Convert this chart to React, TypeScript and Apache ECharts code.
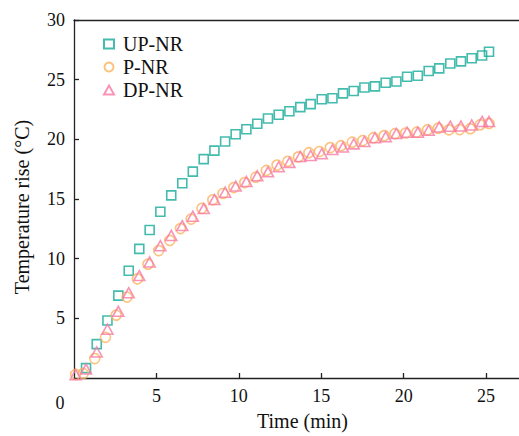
import React, { useEffect, useRef } from "react";
import * as echarts from "echarts";

const seriesNames = ["UP-NR", "P-NR", "DP-NR"];
const colors = ["#14aa98", "#fbb45e", "#f67aa4"];

const timeUP = [0.73, 1.38, 2.03, 2.69, 3.32, 3.96, 4.59, 5.24, 5.9, 6.57, 7.21, 7.87, 8.52, 9.17, 9.81, 10.46, 11.12, 11.77, 12.42, 13.07, 13.73, 14.36, 15.03, 15.68, 16.32, 16.97, 17.62, 18.26, 18.91, 19.56, 20.21, 20.86, 21.52, 22.16, 22.83, 23.48, 24.13, 24.76, 25.18];
const tempUP = [0.83, 2.84, 4.82, 6.9, 8.99, 10.82, 12.4, 13.93, 15.3, 16.32, 17.29, 18.34, 19.05, 19.82, 20.43, 20.85, 21.31, 21.74, 22.06, 22.35, 22.7, 22.95, 23.36, 23.44, 23.85, 24.05, 24.34, 24.44, 24.74, 24.85, 25.24, 25.33, 25.73, 25.95, 26.36, 26.53, 26.8, 27.03, 27.34];

const timeP = [0.1, 0.56, 1.26, 1.91, 2.56, 3.22, 3.85, 4.49, 5.14, 5.81, 6.46, 7.11, 7.76, 8.42, 9.04, 9.7, 10.36, 11.03, 11.67, 12.32, 12.97, 13.62, 14.25, 14.89, 15.55, 16.2, 16.88, 17.52, 18.17, 18.82, 19.48, 20.13, 20.8, 21.45, 22.1, 22.75, 23.4, 24.04, 24.65, 25.18];
const tempP = [0.3, 0.38, 1.63, 3.41, 5.27, 6.78, 8.31, 9.54, 10.68, 11.53, 12.52, 13.32, 14.22, 14.93, 15.46, 15.96, 16.38, 16.83, 17.39, 17.84, 18.16, 18.53, 18.88, 18.98, 19.31, 19.47, 19.76, 19.9, 20.14, 20.31, 20.47, 20.53, 20.6, 20.8, 20.94, 20.8, 20.82, 20.89, 21.23, 21.33];

const timeDP = [0.1, 0.73, 1.38, 2.03, 2.69, 3.32, 3.96, 4.59, 5.24, 5.9, 6.57, 7.21, 7.87, 8.52, 9.17, 9.81, 10.46, 11.12, 11.77, 12.42, 13.07, 13.73, 14.36, 15.03, 15.68, 16.32, 16.97, 17.62, 18.26, 18.91, 19.56, 20.21, 20.86, 21.52, 22.16, 22.83, 23.48, 24.13, 24.76, 25.18];
const tempDP = [0.28, 0.75, 2.18, 4.09, 5.59, 7.15, 8.58, 9.73, 11.09, 11.95, 12.77, 13.56, 14.2, 14.95, 15.57, 16.08, 16.46, 16.95, 17.28, 17.71, 18.07, 18.57, 18.65, 18.8, 19.14, 19.35, 19.62, 19.82, 20.14, 20.22, 20.49, 20.6, 20.6, 20.76, 21.04, 21.1, 21.12, 21.21, 21.5, 21.49];

const xTitle = "Time (min)";
const yTitle = "Temperature rise (°C)";

const FONT = "'Liberation Serif', 'Times New Roman', serif";

function pairs(xs: number[], ys: number[]) {
  return xs.map((x, i) => [x, ys[i]]);
}

export default function App() {
  const ref = useRef<HTMLDivElement>(null);
  useEffect(() => {
    if (!ref.current) return;
    document.body.style.margin = "0";
    const chart = echarts.init(ref.current, null, { renderer: "svg" });
    const axisLine = { show: true, lineStyle: { color: "#222", width: 1.3 } };
    const mk = (idx: number, data: number[][], symbol: string, size: any) => ({
      name: seriesNames[idx],
      type: "scatter",
      data,
      symbol,
      symbolSize: size,
      itemStyle: { color: "rgba(255,255,255,0)", borderColor: colors[idx], borderWidth: 1.6 },
      emphasis: { disabled: true },
    });
    chart.setOption({
      animation: false,
      grid: { left: 74, right: 0, top: 20, bottom: 49, containLabel: false },
      legend: {
        orient: "vertical",
        left: 98,
        top: 29,
        itemWidth: 10,
        itemHeight: 9,
        itemGap: 3,
        data: seriesNames.map((n, i) => ({ name: n, icon: ["rect", "circle", "triangle"][i] })),
        textStyle: { fontFamily: FONT, fontSize: 20, color: "#111", padding: [0, 0, 0, 4] },
      },
      xAxis: [
        {
          type: "value",
          min: 0,
          max: 27,
          interval: 5,
          name: xTitle,
          nameLocation: "middle",
          nameGap: 33,
          nameTextStyle: { fontFamily: FONT, fontSize: 20, color: "#111", padding: [0, 0, 0, 12] },
          axisLine,
          axisTick: { show: true, inside: true, length: 5, lineStyle: { color: "#222", width: 1.3 } },
          axisLabel: { fontFamily: FONT, fontSize: 18, color: "#111", margin: 9, showMinLabel: false, showMaxLabel: false },
          splitLine: { show: false },
        },
        {
          type: "value",
          position: "top",
          min: 0,
          max: 27,
          axisLine,
          axisTick: { show: false },
          axisLabel: { show: false },
          splitLine: { show: false },
        },
      ],
      yAxis: {
        type: "value",
        min: 0,
        max: 30,
        interval: 5,
        axisLine,
        axisTick: { show: true, inside: true, length: 5, lineStyle: { color: "#222", width: 1.3 } },
        axisLabel: { fontFamily: FONT, fontSize: 18, color: "#111", margin: 9, showMinLabel: false },
        splitLine: { show: false },
      },
      graphic: [
        {
          type: "text",
          x: 60,
          y: 403,
          style: { text: "0", fontFamily: FONT, fontSize: 18, fill: "#111", align: "center", verticalAlign: "middle" },
        },
        {
          type: "text",
          x: 22,
          y: 207,
          rotation: Math.PI / 2,
          style: { text: yTitle, fontFamily: FONT, fontSize: 20, fill: "#111", align: "center", verticalAlign: "middle" },
        },
      ],
      series: [
        mk(0, pairs(timeUP, tempUP), "rect", 9),
        mk(1, pairs(timeP, tempP), "circle", 10),
        mk(2, pairs(timeDP, tempDP), "triangle", [11, 10]),
      ],
    });
    return () => chart.dispose();
  }, []);
  return <div ref={ref} style={{ width: 519, height: 436 }} />;
}
